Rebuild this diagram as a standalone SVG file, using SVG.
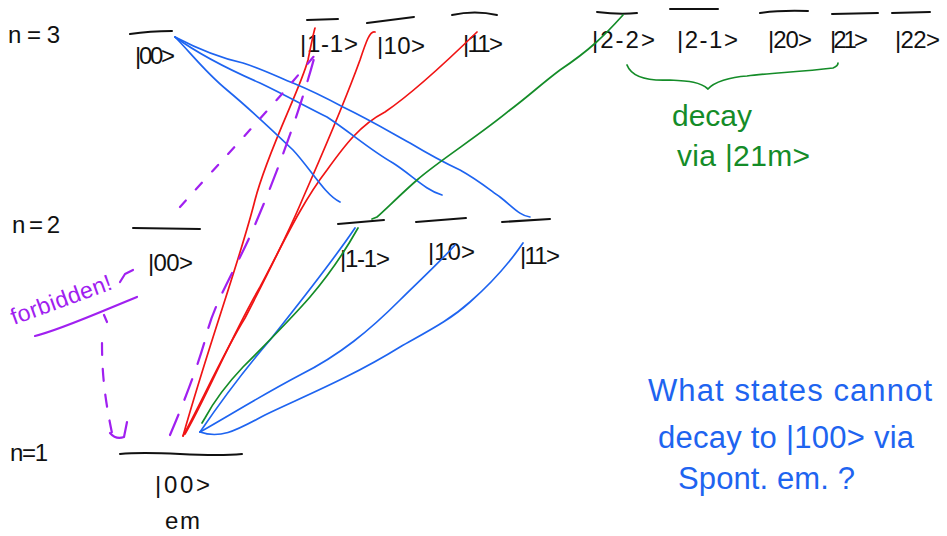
<svg xmlns="http://www.w3.org/2000/svg" width="947" height="536" viewBox="0 0 947 536">
<style>
text{font-family:"Liberation Sans","DejaVu Sans",sans-serif}
.k{fill:#111;font-size:24px}
.bt{fill:#1e64f0;font-size:31px}
.gt{fill:#148c28;font-size:30px}
.pt{fill:#a020f0;font-size:23px}
.lvl{fill:none;stroke:#111;stroke-width:2;stroke-linecap:round}
.r{fill:none;stroke:#f01414;stroke-width:1.7;stroke-linecap:round;stroke-linejoin:round}
.b{fill:none;stroke:#1e64f0;stroke-width:1.7;stroke-linecap:round;stroke-linejoin:round}
.g{fill:none;stroke:#148c28;stroke-width:1.7;stroke-linecap:round;stroke-linejoin:round}
.p{fill:none;stroke:#a020f0;stroke-width:2.2;stroke-linecap:round;stroke-linejoin:round}
</style>
<rect width="947" height="536" fill="#fff"/>
<g id="row-labels">
<text class="k" x="8" y="43" textLength="52" lengthAdjust="spacing">n=3</text>
<text class="k" x="12" y="233" textLength="48" lengthAdjust="spacing">n=2</text>
<text class="k" x="10" y="461" textLength="38" lengthAdjust="spacing">n=1</text>
</g>
<g id="n3-00"><path class="lvl" d="M130,34 Q150,31 172,31"/><text class="k" x="135" y="64" textLength="40" lengthAdjust="spacing">|00&gt;</text></g>
<g id="n3-1m1"><path class="lvl" d="M307,20 L338,19"/><text class="k" x="300" y="52" textLength="58" lengthAdjust="spacing">|1-1&gt;</text></g>
<g id="n3-10"><path class="lvl" d="M367,23 Q390,20 414,17"/><text class="k" x="377" y="54" textLength="48" lengthAdjust="spacing">|10&gt;</text></g>
<g id="n3-11"><path class="lvl" d="M452,15 Q475,10 497,15"/><text class="k" x="463" y="52" textLength="40" lengthAdjust="spacing">|11&gt;</text></g>
<g id="n3-2m2"><path class="lvl" d="M597,12 Q620,15 637,13"/><text class="k" x="592" y="48" textLength="63" lengthAdjust="spacing">|2-2&gt;</text></g>
<g id="n3-2m1"><path class="lvl" d="M670,9 L718,9"/><text class="k" x="677" y="48" textLength="61" lengthAdjust="spacing">|2-1&gt;</text></g>
<g id="n3-20"><path class="lvl" d="M760,13 Q780,10 808,11"/><text class="k" x="768" y="48" textLength="44" lengthAdjust="spacing">|20&gt;</text></g>
<g id="n3-21"><path class="lvl" d="M832,14 L878,13"/><text class="k" x="830" y="48" textLength="38" lengthAdjust="spacing">|21&gt;</text></g>
<g id="n3-22"><path class="lvl" d="M892,13 L930,12"/><text class="k" x="895" y="48" textLength="45" lengthAdjust="spacing">|22&gt;</text></g>
<g id="n2-00"><path class="lvl" d="M133,228 L200,229"/><text class="k" x="148" y="271" textLength="45" lengthAdjust="spacing">|00&gt;</text></g>
<g id="n2-1m1"><path class="lvl" d="M338,224 L384,220"/><text class="k" x="340" y="267" textLength="50" lengthAdjust="spacing">|1-1&gt;</text></g>
<g id="n2-10"><path class="lvl" d="M416,222 L466,218"/><text class="k" x="428" y="260" textLength="47" lengthAdjust="spacing">|10&gt;</text></g>
<g id="n2-11"><path class="lvl" d="M502,222 L550,219"/><text class="k" x="520" y="264" textLength="40" lengthAdjust="spacing">|11&gt;</text></g>
<g id="n1-00"><path class="lvl" d="M120,454 C160,450 200,458 242,454"/><text class="k" x="155" y="493" textLength="55" lengthAdjust="spacing">|00&gt;</text><text class="k" x="165" y="529" textLength="35" lengthAdjust="spacing">em</text></g>
<g id="connectors">
<path class="r" d="M183,436 C210,340 240,260 255,200 C268,150 300,90 308,60 C311,45 313,35 315,28"/>
<path class="r" d="M183,436 C200,405 225,350 245,318 C262,285 285,240 300,205 C315,170 340,115 360,60 C366,42 370,30 375,32"/>
<path class="r" d="M185,434 C205,400 232,335 260,287 C280,250 300,205 327,170 C345,145 360,125 385,112 C410,95 440,68 477,32"/>
<path class="b" d="M175,37 C190,52 205,72 227,90 C245,105 270,128 293,150 C310,168 325,195 340,202"/>
<path class="b" d="M175,37 C200,55 230,70 260,83 C285,95 305,106 327,117 C350,132 370,150 393,163 C412,175 425,190 442,195"/>
<path class="b" d="M175,37 C200,50 220,58 243,63 C265,70 280,78 293,83 C315,92 330,100 343,107 C370,120 390,132 410,143 C430,155 445,163 460,170 C478,180 490,190 500,197 C513,207 520,216 530,217"/>
<path class="b" d="M200,432 C215,410 240,375 270,340 C300,302 330,265 355,228"/>
<path class="b" d="M200,432 C230,415 262,395 300,375 C340,355 370,330 400,300 C420,280 440,262 455,245"/>
<path class="b" d="M200,432 C222,440 240,428 265,415 C300,398 350,378 400,347 C430,330 450,320 470,302 C495,280 510,262 523,243"/>
<path class="g" d="M623,15 C605,35 590,50 560,70 C540,85 530,95 510,110 C480,135 440,160 417,180 C400,195 385,210 377,217 L372,219"/>
<path class="g" d="M358,228 C340,260 322,283 310,297 C290,320 268,342 243,367 C225,386 212,405 205,418 L202,423"/>
<path class="p" stroke-dasharray="9,15" d="M180,207 C220,162 268,112 315,55"/>
<path class="p" stroke-dasharray="22,16" d="M170,435 C185,400 200,360 207,333 C215,300 240,262 257,220 C272,185 298,118 315,55"/>
</g>
<g id="brace">
<path class="g" d="M627,65 C632,78 650,81 670,80 C690,81 700,82 708,89 C714,82 730,77 747,76 C770,73 800,72 833,68 Q838,66 838,63"/>
<text class="gt" x="672" y="126" textLength="80" lengthAdjust="spacing">decay</text>
<text class="gt" x="677" y="166" textLength="133" lengthAdjust="spacing">via |21m&gt;</text>
</g>
<g id="forbidden">
<text class="pt" x="14" y="325" transform="rotate(-20 14 325)" textLength="106" lengthAdjust="spacing">forbidden!</text>
<path class="p" d="M120,282 L125,274 L133,270"/>
<path class="p" d="M35,336 C60,330 100,312 137,297"/>
<path class="p" d="M104,315 L107,322"/>
<path class="p" stroke-dasharray="12,14" d="M102,343 C102,370 104,395 112,433"/>
<path class="p" d="M110,433 Q116,440 124,437 L127,422"/>
</g>
<g id="question">
<text class="bt" x="648" y="401" textLength="284" lengthAdjust="spacing">What states cannot</text>
<text class="bt" x="658" y="448" textLength="256" lengthAdjust="spacing">decay to |100&gt; via</text>
<text class="bt" x="678" y="489" textLength="177" lengthAdjust="spacing">Spont. em. ?</text>
</g>
</svg>
